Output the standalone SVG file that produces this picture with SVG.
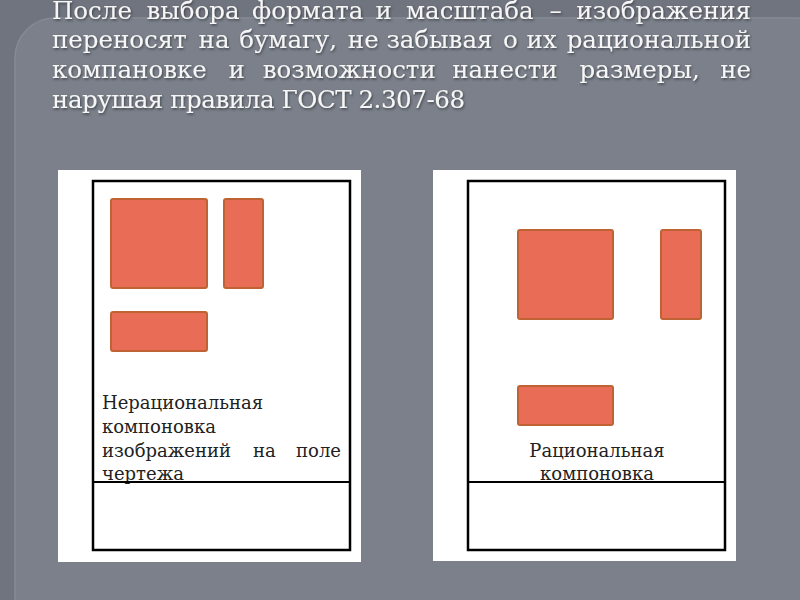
<svg xmlns="http://www.w3.org/2000/svg" width="800" height="600" viewBox="0 0 800 600">
<defs>
<style>
.sheet{fill:#ffffff}
.frame{fill:none;stroke:#000;stroke-width:2.5}
.blk{fill:#e96d56;stroke:#bf6335;stroke-width:2}
.ttl{font-family:"DejaVu Serif","Liberation Serif",serif;font-size:24.5px;fill:#f6f6f6}
.lbl{font-family:"DejaVu Serif","Liberation Serif",serif;font-size:18px;fill:#222}
</style>
<filter id="sh" x="-5%" y="-20%" width="110%" height="140%">
<feDropShadow dx="1" dy="1.5" stdDeviation="1" flood-color="#2a2d33" flood-opacity="0.7"/>
</filter>
<linearGradient id="ul" x1="0" x2="1" y1="0" y2="0">
<stop offset="0" stop-color="#b97a4e"/>
<stop offset="0.5" stop-color="#d48f5d"/>
<stop offset="1" stop-color="#c07c4c"/>
</linearGradient>
</defs>
<rect x="0" y="0" width="800" height="600" fill="#70747e"/>
<rect x="15" y="18" width="820" height="620" rx="40" fill="#7b808a" stroke="#858a94" stroke-width="1.5"/>
<g id="title" class="ttl" filter="url(#sh)">
<text y="19"><tspan x="52">После</tspan><tspan x="146.5">выбора</tspan><tspan x="252">формата</tspan><tspan x="375.5">и</tspan><tspan x="406">масштаба</tspan><tspan x="549.5">–</tspan><tspan x="751" text-anchor="end">изображения</tspan></text>
<text y="48"><tspan x="52">переносят</tspan><tspan x="198.6">на</tspan><tspan x="239.2">бумагу,</tspan><tspan x="347.8">не</tspan><tspan x="386.4">забывая</tspan><tspan x="503">о</tspan><tspan x="526.6">их</tspan><tspan x="751" text-anchor="end">рациональной</tspan></text>
<text y="78"><tspan x="52">компановке</tspan><tspan x="228.4">и</tspan><tspan x="262.8">возможности</tspan><tspan x="452.2">нанести</tspan><tspan x="579.6">размеры,</tspan><tspan x="751" text-anchor="end">не</tspan></text>
<text x="52" y="108" textLength="413" lengthAdjust="spacing">нарушая правила ГОСТ 2.307-68</text>
</g>
<line x1="52" y1="125" x2="751" y2="125" stroke="url(#ul)" stroke-width="2.5"/>
<g id="sheet-left">
<rect class="sheet" x="58" y="170" width="303" height="392"/>
<rect class="frame" x="93" y="181" width="257" height="369"/>
<rect class="blk" x="111" y="199" width="96" height="89" rx="2"/>
<rect class="blk" x="224" y="199" width="39" height="89" rx="2"/>
<rect class="blk" x="111" y="312" width="96" height="39" rx="2"/>
<g class="lbl">
<text x="102" y="409">Нерациональная</text>
<text x="102" y="433">компоновка</text>
<text y="457"><tspan x="102">изображений</tspan><tspan x="253">на</tspan><tspan x="341" text-anchor="end">поле</tspan></text>
<text x="102" y="480">чертежа</text>
</g>
<line x1="93" y1="482" x2="350" y2="482" stroke="#000" stroke-width="2"/>
</g>
<g id="sheet-right">
<rect class="sheet" x="433" y="170" width="303" height="391"/>
<rect class="frame" x="468" y="181" width="257" height="369"/>
<rect class="blk" x="518" y="230" width="95" height="89" rx="2"/>
<rect class="blk" x="661" y="230" width="40" height="89" rx="2"/>
<rect class="blk" x="518" y="386" width="95" height="39" rx="2"/>
<g class="lbl" text-anchor="middle">
<text x="597" y="457">Рациональная</text>
<text x="597" y="480">компоновка</text>
</g>
<line x1="468" y1="482" x2="725" y2="482" stroke="#000" stroke-width="2"/>
</g>
</svg>
